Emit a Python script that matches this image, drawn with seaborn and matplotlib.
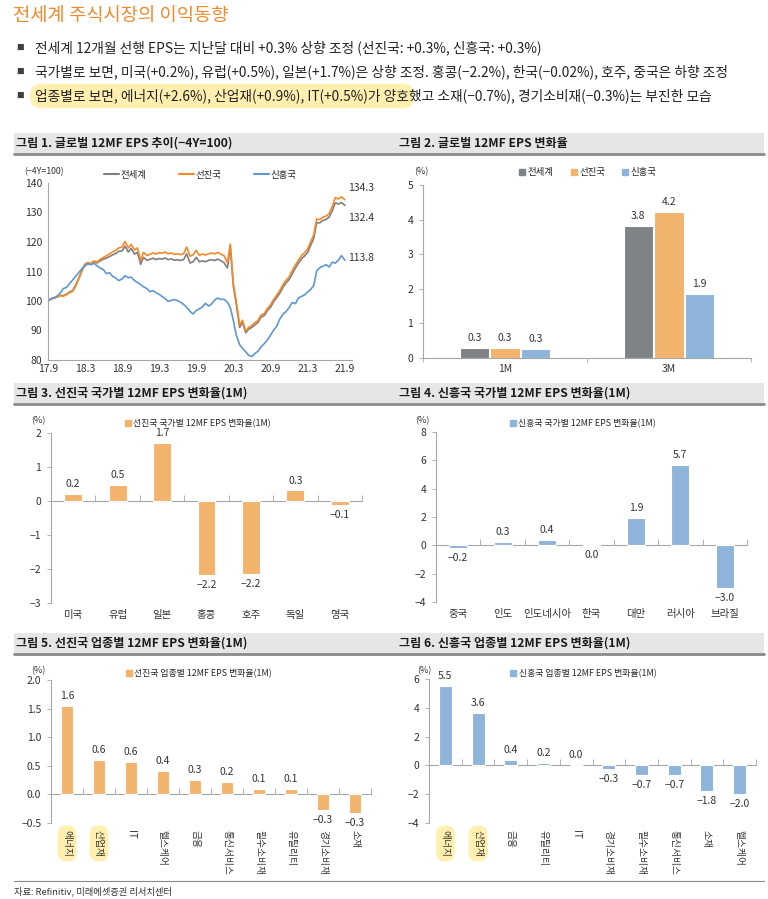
import numpy as np
import pandas as pd
import matplotlib
matplotlib.use('Agg')
import matplotlib.pyplot as plt
from matplotlib.patches import Rectangle
from matplotlib.lines import Line2D
import seaborn as sns

# ---- data ----
line_regions = ['전세계', '선진국', '신흥국']
line_ticklabels = ['17.9', '18.3', '18.9', '19.3', '19.9', '20.3', '20.9', '21.3', '21.9']
# semi-monthly readings, 2017.9 ~ 2021.9 (-4Y = 100)
world = [100.0, 100.7, 101.1, 101.4, 101.9, 101.8, 102.3, 103.0, 103.6, 105.4,
         108.0, 110.4, 112.4, 113.0, 112.6, 113.3, 112.9, 113.6, 114.2, 114.5,
         115.1, 115.6, 116.1, 116.8, 117.0, 118.6, 116.6, 117.8, 115.9, 116.5,
         112.4, 114.8, 113.8, 114.1, 114.5, 114.0, 114.4, 114.2, 114.6, 114.0,
         114.3, 113.8, 114.0, 113.7, 114.1, 116.0, 112.9, 113.2, 114.8, 113.3,
         113.6, 113.3, 113.8, 114.0, 113.7, 114.2, 113.6, 113.0, 111.2, 118.5,
         105.0, 99.2, 91.0, 92.8, 89.2, 90.4, 91.1, 91.9, 92.8, 94.5,
         95.1, 96.7, 98.0, 99.7, 101.2, 102.6, 104.7, 106.1, 107.3, 109.2,
         111.2, 112.8, 114.4, 115.3, 116.4, 118.6, 121.3, 126.5, 126.5, 127.3,
         127.7, 128.4, 130.6, 133.2, 132.9, 133.4, 132.4]
advanced = [100.0, 100.6, 101.0, 101.3, 101.8, 101.6, 102.2, 102.8, 103.3, 105.0,
            107.8, 110.2, 112.3, 113.0, 112.8, 113.6, 113.2, 114.1, 114.8, 115.3,
            116.0, 116.6, 117.2, 118.0, 118.3, 120.2, 118.0, 119.2, 117.3, 118.0,
            113.8, 116.5, 115.4, 115.8, 116.3, 115.9, 116.4, 116.2, 116.6, 116.0,
            116.3, 115.8, 116.0, 115.7, 116.1, 118.3, 115.2, 115.6, 117.2, 115.5,
            115.9, 115.6, 116.0, 116.3, 116.0, 116.5, 115.8, 115.4, 113.0, 119.3,
            106.0, 100.0, 92.0, 93.5, 89.8, 91.0, 91.8, 92.6, 93.5, 95.2,
            95.8, 97.4, 98.8, 100.5, 102.0, 103.5, 105.6, 107.0, 108.2, 110.2,
            112.3, 113.8, 115.5, 116.4, 117.6, 119.8, 122.5, 127.8, 127.6, 128.4,
            128.8, 129.6, 132.0, 135.0, 134.6, 135.3, 134.3]
emerging = [100.0, 100.8, 101.0, 101.6, 102.8, 104.2, 104.6, 105.8, 107.2, 108.3,
            109.8, 110.9, 111.8, 112.6, 112.3, 112.8, 111.9, 111.2, 110.6, 109.3,
            109.6, 108.4, 107.8, 106.9, 107.5, 108.6, 107.9, 108.1, 106.9, 106.3,
            105.6, 104.8, 104.2, 103.2, 103.5, 102.8, 102.3, 101.6, 100.8, 99.9,
            100.2, 100.5, 100.1, 99.6, 98.8, 97.9, 96.5, 95.6, 96.8, 97.3,
            98.0, 99.2, 98.3, 99.0, 100.4, 101.0, 100.5, 100.6, 99.6, 97.8,
            93.5, 88.5, 85.2, 84.0, 82.8, 81.6, 81.2, 82.2, 83.0, 84.4,
            85.6, 86.8, 88.5, 90.1, 91.5, 93.8, 95.6, 96.4, 97.8, 99.5,
            99.1, 101.0, 101.6, 102.1, 103.0, 103.8, 105.3, 110.2, 111.3, 111.8,
            112.3, 111.5, 113.2, 112.8, 113.9, 115.4, 113.8]

periods = ['1M', '3M']
chg_world = [0.30, 3.82]
chg_adv = [0.29, 4.23]
chg_em = [0.26, 1.86]

dm_countries = ['미국', '유럽', '일본', '홍콩', '호주', '독일', '영국']
dm_country_chg = [0.20, 0.46, 1.70, -2.19, -2.16, 0.31, -0.13]

em_countries = ['중국', '인도', '인도네시아', '한국', '대만', '러시아', '브라질']
em_country_chg = [-0.19, 0.26, 0.38, -0.02, 1.92, 5.69, -3.01]

dm_sectors = ['에너지', '산업재', 'IT', '헬스케어', '금융', '통신서비스', '필수소비재', '유틸리티', '경기소비재', '소재']
dm_sector_chg = [1.55, 0.61, 0.57, 0.41, 0.26, 0.22, 0.09, 0.09, -0.27, -0.32]

em_sectors = ['에너지', '산업재', '금융', '유틸리티', 'IT', '경기소비재', '필수소비재', '통신서비스', '소재', '헬스케어']
em_sector_chg = [5.51, 3.63, 0.37, 0.19, 0.01, -0.26, -0.69, -0.69, -1.78, -1.97]

# ---- style ----
sns.set_theme(style='white')
plt.rcParams['font.family'] = ['Noto Sans CJK KR', 'DejaVu Sans']
plt.rcParams['axes.unicode_minus'] = True

W, H = 768, 899
GRAY = '#808386'
ORANGE = '#F2B36D'
BLUE = '#8EB4DA'
LINE_COLORS = ['#7F7F7F', '#F5892A', '#5F97D0']
AXC = '#A6A6A6'
TXT = '#333333'

fig = plt.figure(figsize=(W / 100, H / 100), dpi=100)


def fx(x):
    return x / W


def fy(y):
    return 1 - y / H


def add_ax(x0, y0, x1, y1):
    return fig.add_axes([fx(x0), fy(y1), (x1 - x0) / W, (y1 - y0) / H])


def fmt(v):
    s = f'{v:.1f}'
    if s == '-0.0':
        s = '0.0'
    return s.replace('-', '−')


def header(y, left, right):
    fig.add_artist(Rectangle((fx(14), fy(y + 20)), 750 / W, 20 / H, transform=fig.transFigure,
                             facecolor='#E6E6E6', edgecolor='none'))
    fig.add_artist(Line2D([fx(14), fx(764)], [fy(y + 21)] * 2, transform=fig.transFigure,
                          color='#8A8A8A', lw=2))
    fig.text(fx(16), fy(y + 10), left, fontsize=8.7, fontweight='bold', va='center', color='#1A1A1A')
    fig.text(fx(399), fy(y + 10), right, fontsize=8.7, fontweight='bold', va='center', color='#1A1A1A')


def sq_legend(ax, labels, colors, x, y, spacing=1.0, fs=6.4):
    handles = [Line2D([], [], marker='s', ls='', color=c, markersize=4.5) for c in colors]
    ax.legend(handles, labels, loc='center', bbox_to_anchor=(x, y), ncol=len(labels), frameon=False,
              fontsize=fs, handletextpad=0.1, columnspacing=spacing, handlelength=1.0, borderaxespad=0)


def style_bar_ax(ax, cats, ylim, yticks, rot=False, decimals=False):
    ax.set_ylim(*ylim)
    ax.set_yticks(yticks)
    ax.set_xlim(-0.5, len(cats) - 0.5)
    ax.set_xlabel('')
    ax.set_ylabel('')
    for s in ['top', 'right', 'bottom']:
        ax.spines[s].set_visible(False)
    ax.spines['left'].set_color(AXC)
    ax.spines['left'].set_linewidth(0.8)
    ax.tick_params(axis='y', length=3, width=0.6, color=AXC, labelsize=7.5, labelcolor=TXT, pad=4, left=True)
    ax.tick_params(axis='x', length=0, labelsize=7.5, labelcolor=TXT, pad=5)
    if rot:
        ax.set_xticks(range(len(cats)))
        ax.set_xticklabels(cats, rotation=-90, va='top', ha='center', fontsize=7)
    if decimals:
        ax.yaxis.set_major_formatter(plt.FuncFormatter(lambda v, p: fmt(v)))
    else:
        ax.yaxis.set_major_formatter(plt.FuncFormatter(lambda v, p: f'{v:.0f}'.replace('-', '−')))
    sec = ax.secondary_xaxis(0, transform=ax.transData)
    sec.set_xticks(np.arange(len(cats) + 1) - 0.5)
    sec.tick_params(direction='in', length=4, width=0.6, color=AXC, labelbottom=False)
    sec.spines['bottom'].set_color(AXC)
    sec.spines['bottom'].set_linewidth(0.8)


def single_bars(ax, cats, vals, color):
    sns.barplot(x=cats, y=vals, color=color, width=0.4, edgecolor='white', linewidth=0.8,
                saturation=1, ax=ax)
    ax.bar_label(ax.containers[0], labels=[fmt(v) for v in vals], padding=3.5, fontsize=7.5, color=TXT)


# ---- top text ----
fig.text(fx(13), fy(16), '전세계 주식시장의 이익동향', fontsize=13.5, color='#F08A2C', va='center')
bullets_y = [48, 72, 96]
for by in bullets_y:
    fig.text(fx(16), fy(by), '■', fontsize=5.5, color='#404040', va='center')
b1 = '전세계 12개월 선행 EPS는 지난달 대비 +0.3% 상향 조정 (선진국: +0.3%, 신흥국: +0.3%)'
b2 = '국가별로 보면, 미국(+0.2%), 유럽(+0.5%), 일본(+1.7%)은 상향 조정. 홍콩(−2.2%), 한국(−0.02%), 호주, 중국은 하향 조정'
b3a = '업종별로 보면, 에너지(+2.6%), 산업재(+0.9%), IT(+0.5%)가 양호'
b3b = '했고 소재(−0.7%), 경기소비재(−0.3%)는 부진한 모습'
fs_b = 9.9
fig.text(fx(35), fy(48), b1, fontsize=fs_b, color='#222222', va='center')
fig.text(fx(35), fy(72), b2, fontsize=fs_b, color='#222222', va='center')
t3 = fig.text(fx(35), fy(96), b3a, fontsize=fs_b, color='#222222', va='center',
              bbox=dict(boxstyle='round,pad=0.35,rounding_size=0.8', fc='#FFF0B0', ec='none'))
renderer = fig.canvas.get_renderer()
bb = t3.get_window_extent(renderer)
fig.text(bb.x1 / W, fy(96), b3b, fontsize=fs_b, color='#222222', va='center')

# ---- headers ----
header(133, '그림 1. 글로벌 12MF EPS 추이(−4Y=100)', '그림 2. 글로벌 12MF EPS 변화율')
header(383, '그림 3. 선진국 국가별 12MF EPS 변화율(1M)', '그림 4. 신흥국 국가별 12MF EPS 변화율(1M)')
header(633, '그림 5. 선진국 업종별 12MF EPS 변화율(1M)', '그림 6. 신흥국 업종별 12MF EPS 변화율(1M)')

# ---- chart 1: line ----
dates = pd.date_range('2017-09-01', '2021-09-01', freq='SMS')
df1 = pd.DataFrame({'date': dates, '전세계': world, '선진국': advanced, '신흥국': emerging})
long1 = df1.melt(id_vars='date', var_name='region', value_name='value')
ax1 = add_ax(48, 183, 352, 360)
sns.lineplot(data=long1, x='date', y='value', hue='region', hue_order=line_regions,
             palette=LINE_COLORS, linewidth=1.2, ax=ax1, legend=False)
ax1.set_ylim(80, 140)
ax1.set_yticks(range(80, 141, 10))
ax1.set_xlim(pd.Timestamp('2017-09-01'), pd.Timestamp('2021-10-06'))
ax1.set_xticks(pd.date_range('2017-09-01', '2021-09-01', freq='6MS'))
ax1.set_xticklabels(line_ticklabels)
ax1.set_xlabel('')
ax1.set_ylabel('')
for s in ['top', 'right']:
    ax1.spines[s].set_visible(False)
for s in ['left', 'bottom']:
    ax1.spines[s].set_color(AXC)
    ax1.spines[s].set_linewidth(0.8)
ax1.tick_params(axis='y', length=0, labelsize=7.5, labelcolor=TXT, pad=4)
ax1.tick_params(axis='x', length=0, labelsize=7.5, labelcolor=TXT, pad=3)
h1 = [Line2D([], [], color=c, lw=1.5) for c in LINE_COLORS]
ax1.legend(h1, line_regions, loc='center', bbox_to_anchor=(0.5, 1.045), ncol=3, frameon=False,
           fontsize=6.8, handlelength=1.6, handletextpad=0.2, columnspacing=3.4, borderaxespad=0)
fig.text(fx(24), fy(172), '(−4Y=100)', fontsize=6.3, color=TXT, va='center')
end_offsets = [(3, -13), (3, 12), (3, 2)]
for series, off in zip([world, advanced, emerging], end_offsets):
    ax1.annotate(fmt(series[-1]), xy=(dates[-1], series[-1]), xytext=off, textcoords='offset pixels',
                 fontsize=7.5, color=TXT, va='center', ha='left')

# ---- chart 2: grouped bars ----
df2 = pd.DataFrame({'period': periods * 3,
                    'region': [r for r in line_regions for _ in periods],
                    'value': chg_world + chg_adv + chg_em})
ax2 = add_ax(423, 185, 751, 358)
sns.barplot(data=df2, x='period', y='value', hue='region', hue_order=line_regions,
            palette=[GRAY, ORANGE, BLUE], width=0.56, gap=0.04, edgecolor='white', linewidth=0.8,
            saturation=1, ax=ax2, legend=False)
for cont in ax2.containers:
    ax2.bar_label(cont, labels=[fmt(b.get_height()) for b in cont], padding=3.5, fontsize=7.5, color=TXT)
ax2.set_ylim(0, 5)
ax2.set_xlim(-0.5, 1.5)
ax2.set_xlabel('')
ax2.set_ylabel('')
for s in ['top', 'right']:
    ax2.spines[s].set_visible(False)
for s in ['left', 'bottom']:
    ax2.spines[s].set_color(AXC)
    ax2.spines[s].set_linewidth(0.8)
ax2.set_xticks([-0.5, 0.5, 1.5], minor=True)
ax2.tick_params(axis='x', which='major', length=0, labelsize=7.5, labelcolor=TXT, pad=4)
ax2.tick_params(axis='x', which='minor', length=3, width=0.6, color=AXC, bottom=True)
ax2.tick_params(axis='y', length=3, width=0.6, color=AXC, labelsize=7.5, labelcolor=TXT, pad=4, left=True)
sq_legend(ax2, line_regions, [GRAY, ORANGE, BLUE], 0.5, 1.07, spacing=1.6, fs=6.8)
fig.text(fx(414), fy(172), '(%)', fontsize=6.5, color=TXT, va='center')

# ---- chart 3 ----
ax3 = add_ax(51, 433, 362, 603)
single_bars(ax3, dm_countries, dm_country_chg, ORANGE)
style_bar_ax(ax3, dm_countries, (-3, 2), range(-3, 3))
sq_legend(ax3, ['선진국 국가별 12MF EPS 변화율(1M)'], [ORANGE], 0.47, 1.053)
fig.text(fx(31), fy(421), '(%)', fontsize=6.5, color=TXT, va='center')

# ---- chart 4 ----
ax4 = add_ax(436, 432, 747, 602)
single_bars(ax4, em_countries, em_country_chg, BLUE)
style_bar_ax(ax4, em_countries, (-4, 8), range(-4, 9, 2))
sq_legend(ax4, ['신흥국 국가별 12MF EPS 변화율(1M)'], [BLUE], 0.47, 1.047)
fig.text(fx(415), fy(421), '(%)', fontsize=6.5, color=TXT, va='center')

# ---- chart 5 ----
ax5 = add_ax(51, 680, 371, 823)
single_bars(ax5, dm_sectors, dm_sector_chg, ORANGE)
style_bar_ax(ax5, dm_sectors, (-0.5, 2.0), [-0.5, 0, 0.5, 1.0, 1.5, 2.0], rot=True, decimals=True)
sq_legend(ax5, ['선진국 업종별 12MF EPS 변화율(1M)'], [ORANGE], 0.46, 1.042)
fig.text(fx(31), fy(671), '(%)', fontsize=6.5, color=TXT, va='center')

# ---- chart 6 ----
ax6 = add_ax(429, 679, 756, 823)
single_bars(ax6, em_sectors, em_sector_chg, BLUE)
style_bar_ax(ax6, em_sectors, (-4, 6), range(-4, 7, 2), rot=True)
sq_legend(ax6, ['신흥국 업종별 12MF EPS 변화율(1M)'], [BLUE], 0.47, 1.035)
fig.text(fx(417), fy(671), '(%)', fontsize=6.5, color=TXT, va='center')

for ax in (ax5, ax6):
    for lbl in ax.get_xticklabels()[:2]:
        lbl.set_bbox(dict(boxstyle='round,pad=0.45,rounding_size=0.9', fc='#FFF0B0', ec='none'))

# ---- source ----
fig.add_artist(Line2D([fx(14), fx(764)], [fy(881)] * 2, transform=fig.transFigure, color='#8A8A8A', lw=0.8))
fig.text(fx(14), fy(891), '자료: Refinitiv, 미래에셋증권 리서치센터', fontsize=6.7, color=TXT, va='center')

fig.savefig('out.png', dpi=100)
